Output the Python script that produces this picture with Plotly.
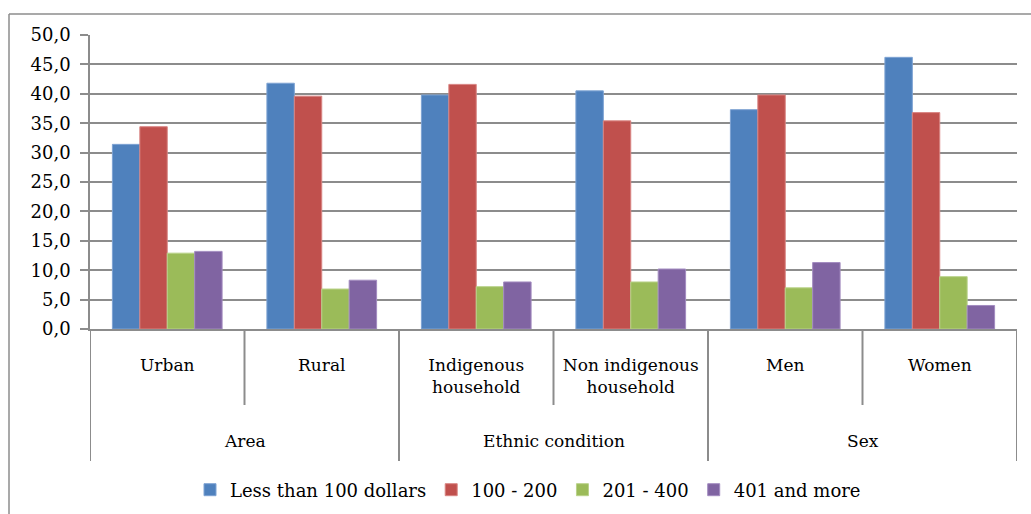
import plotly.graph_objects as go

groups = ["Area", "Ethnic condition", "Sex"]
group_sizes = [2, 2, 2]
categories = ["Urban", "Rural", "Indigenous<br>household", "Non indigenous<br>household", "Men", "Women"]
series_names = ["Less than 100 dollars", "100 - 200", "201 - 400", "401 and more"]
less_100 = [31.4, 41.8, 39.8, 40.5, 37.3, 46.2]
r100_200 = [34.4, 39.6, 41.6, 35.4, 39.8, 36.8]
r201_400 = [12.9, 6.8, 7.2, 8.0, 7.0, 8.9]
r401_more = [13.2, 8.3, 8.0, 10.2, 11.3, 4.0]
y_ticks = [0, 5, 10, 15, 20, 25, 30, 35, 40, 45, 50]

colors = ["#4F81BD", "#C0504D", "#9BBB59", "#8064A2"]
edges = ["#7EA3D3", "#D98583", "#B9D28A", "#A38CC0"]
FONT = "DejaVu Serif"
GRID = "#8C8C8C"

xs = list(range(len(categories)))
fig = go.Figure()
for name, vals, c, e in zip(series_names, [less_100, r100_200, r201_400, r401_more], colors, edges):
    fig.add_trace(go.Bar(x=xs, y=vals, name=name, marker=dict(color=c, line=dict(color=e, width=1))))

W, H = 1031, 514
L, R, T, B = 90, 14, 35, 185
ph = H - T - B

def py(pix):
    return (H - B - pix) / ph

# group dividers and labels
shapes = []
annotations = []
pos = -0.5
outer_bounds = [pos]
for g, n in zip(groups, group_sizes):
    annotations.append(dict(x=pos + n / 2, y=py(441), xref="x", yref="paper", text=g,
                            showarrow=False, font=dict(family=FONT, size=17, color="#000"),
                            xanchor="center", yanchor="middle"))
    pos += n
    outer_bounds.append(pos)
all_bounds = [i - 0.5 for i in range(len(categories) + 1)]
for b in all_bounds:
    bottom = 461 if b in outer_bounds else 405
    shapes.append(dict(type="line", xref="x", yref="paper", x0=b, x1=b, y0=py(329), y1=py(bottom),
                       line=dict(color=GRID, width=2)))
# chart border (top and left)
shapes.append(dict(type="line", xref="paper", yref="paper", x0=(9 - L) / (W - L - R), x1=1.05,
                   y0=py(14), y1=py(14), line=dict(color="#8C8C8C", width=1.5)))
shapes.append(dict(type="line", xref="paper", yref="paper", x0=(9 - L) / (W - L - R), x1=(9 - L) / (W - L - R),
                   y0=py(14), y1=py(520), line=dict(color="#8C8C8C", width=1.5)))

fig.update_layout(
    width=W, height=H,
    margin=dict(l=L, r=R, t=T, b=B, autoexpand=False),
    paper_bgcolor="white", plot_bgcolor="white",
    separators=",.",
    barmode="group", bargap=0.29, bargroupgap=0,
    font=dict(family=FONT, size=17, color="#000"),
    showlegend=True,
    legend=dict(orientation="h", x=(528 - L) / (W - L - R), xanchor="center",
                yref="container", y=1 - 490 / H, yanchor="middle", font=dict(family=FONT, size=18),
                itemwidth=30, traceorder="normal"),
    shapes=shapes, annotations=annotations,
)
fig.update_xaxes(range=[-0.5, len(categories) - 0.5], tickvals=xs, ticktext=categories,
                 ticks="", showgrid=False, showline=True, linecolor=GRID, linewidth=1.5,
                 ticklabelstandoff=20, tickfont=dict(family=FONT, size=17), automargin=False,
                 zeroline=False, fixedrange=True)
fig.update_yaxes(range=[0, 50], tickvals=y_ticks, tickformat=".1f", ticks="outside", ticklen=8,
                 tickcolor=GRID, tickwidth=1.5, showgrid=True, gridcolor=GRID, gridwidth=1.5,
                 showline=True, linecolor=GRID, linewidth=1.5, zeroline=False, automargin=False,
                 ticklabelstandoff=6, tickfont=dict(family=FONT, size=18))

fig.write_html("out.html")
